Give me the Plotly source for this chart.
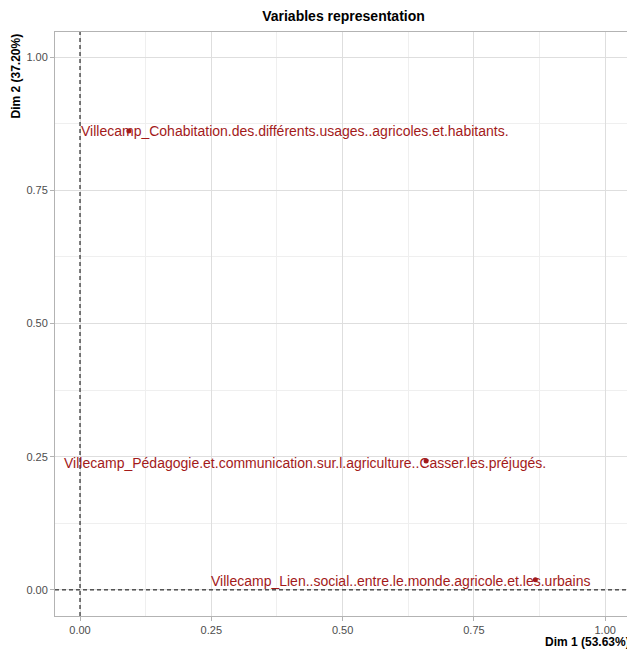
import plotly.graph_objects as go

labels = [
    "Villecamp_Cohabitation.des.différents.usages..agricoles.et.habitants.",
    "Villecamp_Pédagogie.et.communication.sur.l.agriculture..Casser.les.préjugés.",
    "Villecamp_Lien..social..entre.le.monde.agricole.et.les.urbains",
]
dim1 = [0.093, 0.659, 0.867]
dim2 = [0.861, 0.242, 0.019]
tick_vals = [0.0, 0.25, 0.5, 0.75, 1.0]
tick_text = ["0.00", "0.25", "0.50", "0.75", "1.00"]

label_shift_x = [166, -121, -134]
label_shift_y = [0, -2, -1]

col = "#A31A1A"
font = "Liberation Sans, Arial, sans-serif"

# page body has an 8px margin: figure drawn from (8, 8)
W, H = 627, 645
L, R, T, B = 47, 3, 24, 37

fig = go.Figure()
fig.add_trace(go.Scatter(x=dim1, y=dim2, mode="markers",
                         marker=dict(color=col, size=5), hoverinfo="text", text=labels,
                         showlegend=False))

for x, y, t, sx, sy in zip(dim1, dim2, labels, label_shift_x, label_shift_y):
    fig.add_annotation(x=x, y=y, text=t, showarrow=False, xshift=sx, yshift=sy,
                       font=dict(family=font, size=14, color=col))

fig.add_shape(type="line", xref="x", yref="paper", x0=0, x1=0, y0=0, y1=1,
              line=dict(color="black", width=1, dash="4px,3px"))
fig.add_shape(type="line", xref="paper", yref="y", x0=0, x1=1, y0=0, y1=0,
              line=dict(color="black", width=1, dash="4px,3px"))

axis_common = dict(
    tickvals=tick_vals, ticktext=tick_text,
    showgrid=True, gridcolor="#DEDEDE", gridwidth=1,
    zeroline=False, showline=True, linecolor="#B3B3B3", linewidth=1, mirror=True,
    ticks="outside", ticklen=4, tickcolor="#B3B3B3",
    tickfont=dict(family=font, size=11, color="#4D4D4D"),
    minor=dict(dtick=0.125, tick0=0.125, showgrid=True, gridcolor="#EFEFEF", gridwidth=1, ticks=""),
)

fig.update_xaxes(range=[-0.0476, 1.051], **axis_common)
fig.update_yaxes(range=[-0.049, 1.047], **axis_common)

fig.add_annotation(xref="paper", yref="paper", x=1, y=0, yshift=-35, xanchor="right", yanchor="bottom",
                   text="<b>Dim 1 (53.63%)</b>", showarrow=False,
                   font=dict(family=font, size=12, color="black"))
fig.add_annotation(xref="paper", yref="paper", x=0, xshift=-40, y=1, yanchor="top", xanchor="center",
                   text="<b>Dim 2 (37.20%)</b>", textangle=-90, showarrow=False,
                   font=dict(family=font, size=12, color="black"))

fig.update_layout(
    width=W, height=H,
    margin=dict(l=L, r=R, t=T, b=B),
    paper_bgcolor="white", plot_bgcolor="white",
    title=dict(text="<b>Variables representation</b>", x=(L + W - R) / 2 / W, xanchor="center",
               y=1 - 8 / H, yanchor="middle",
               font=dict(family=font, size=14, color="black")),
    font=dict(family=font),
)

fig.write_html("out.html")
